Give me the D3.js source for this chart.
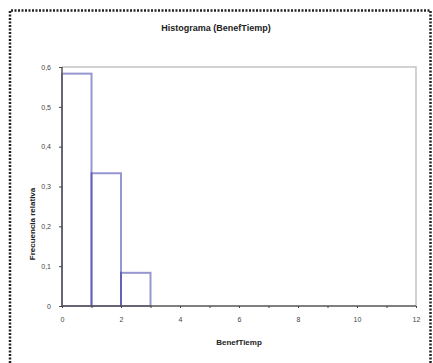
<!DOCTYPE html>
<html><head><meta charset="utf-8">
<script src="https://cdn.jsdelivr.net/npm/d3@7"></script>
<style>body{margin:0;background:#fff}svg{display:block}text{font-family:"Liberation Sans",Arial,sans-serif}</style>
</head><body>
<script>
const binStarts = [0,1,2,3,4,5,6,7,8,9];
const frequencies = [0.5833,0.3333,0.0833,0,0,0,0,0,0,0];
const xTicks = [0,2,4,6,8,10,12];
const yTicks = [0,0.1,0.2,0.3,0.4,0.5,0.6];
const yTickLabels = ["0","0,1","0,2","0,3","0,4","0,5","0,6"];

const W=433,H=363;
const svg=d3.select("body").append("svg").attr("width",W).attr("height",H);
// outer dotted frame
svg.append("path").attr("d","M10,363V10.5H430.5V363").attr("fill","none")
  .attr("stroke","#222").attr("stroke-width",2.5).attr("stroke-dasharray","2,1.5");

const x=d3.scaleLinear().domain([0,12]).range([62,416]);
const y=d3.scaleLinear().domain([0,0.6]).range([306,67]);

// plot frame top/right
svg.append("path").attr("d",`M${x(0)},${y(0.6)}H${x(12)}V${y(0)}`).attr("fill","none")
  .attr("stroke","#c4c4c4").attr("stroke-width",1.5);

// bars
svg.append("g").selectAll("rect").data(binStarts).join("rect")
  .attr("x",d=>x(d)).attr("width",d=>x(d+1)-x(d))
  .attr("y",(d,i)=>y(frequencies[i])).attr("height",(d,i)=>y(0)-y(frequencies[i]))
  .attr("fill","none").attr("stroke","#2e2ea8").attr("stroke-opacity",0.5).attr("stroke-width",2);

// axes
const ya=svg.append("g").attr("transform",`translate(${x(0)},0)`)
  .call(d3.axisLeft(y).tickValues(yTicks).tickFormat((d,i)=>yTickLabels[i]).tickSize(3).tickPadding(8));
const xa=svg.append("g").attr("transform",`translate(0,${y(0)})`)
  .call(d3.axisBottom(x).tickValues(d3.range(0,13)).tickFormat(d=>xTicks.includes(d)?d:"").tickSize(2).tickPadding(9));
[ya,xa].forEach(a=>{
  a.select(".domain").attr("stroke","#555").attr("stroke-width",1.5);
  a.selectAll(".tick line").attr("stroke","#444");
  a.selectAll("text").attr("font-size",7).attr("fill","#444").attr("font-family","Liberation Sans, Arial, sans-serif");
});
ya.select(".domain").attr("d",`M0,${y(0)}V${y(0.6)}`);
xa.select(".domain").attr("d",`M${x(0)},0H${x(12)}`);

svg.append("text").attr("x",216).attr("y",31).attr("text-anchor","middle")
  .attr("font-size",9).attr("font-weight","bold").attr("fill","#222").text("Histograma (BenefTiemp)");
svg.append("text").attr("x",239).attr("y",345).attr("text-anchor","middle")
  .attr("font-size",8).attr("font-weight","bold").attr("fill","#222").text("BenefTiemp");
svg.append("text").attr("transform","translate(35,224) rotate(-90)").attr("text-anchor","middle")
  .attr("font-size",8).attr("font-weight","bold").attr("fill","#222").text("Frecuencia relativa");
</script>
</body></html>
